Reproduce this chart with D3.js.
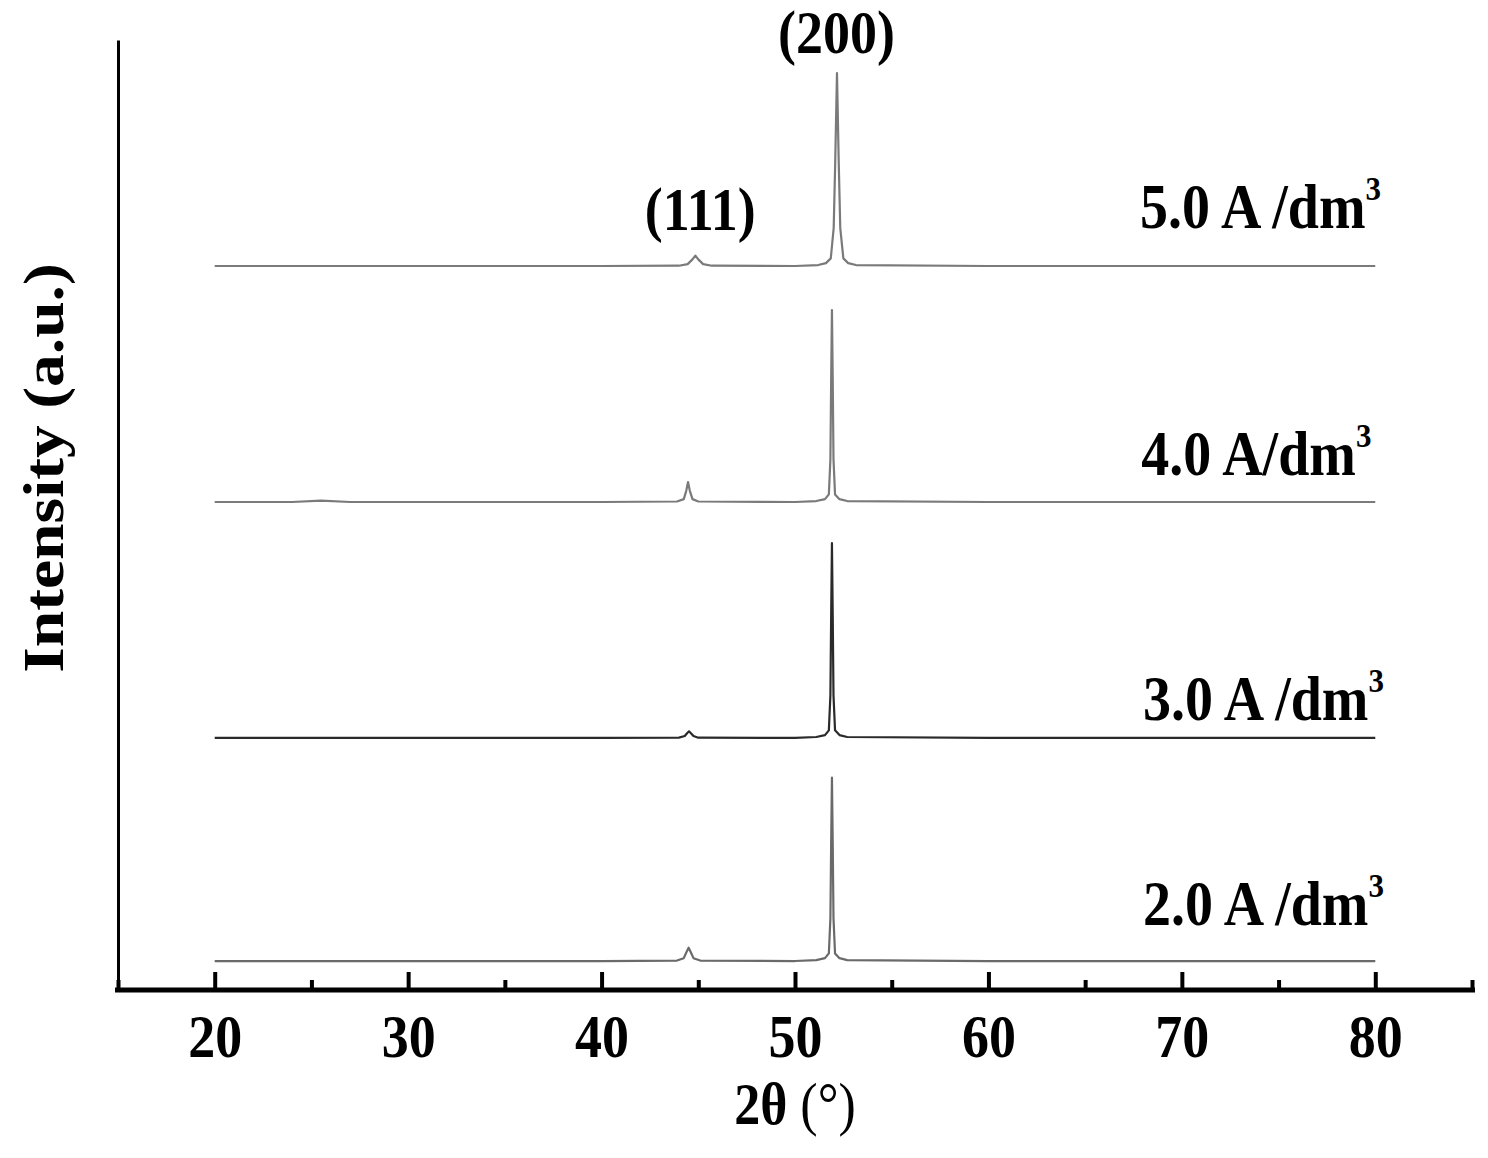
<!DOCTYPE html>
<html>
<head>
<meta charset="utf-8">
<script src="https://cdn.jsdelivr.net/npm/d3@7/dist/d3.min.js"></script>
<style>
  html, body { margin: 0; padding: 0; background: #fff; }
  svg { display: block; }
  text { font-family: "Liberation Serif", "Times New Roman", serif; fill: #000; }
</style>
</head>
<body>
<svg id="chart" width="1488" height="1158"></svg>
<script>
// ---- data ----
const seriesNames = ["2.0 A /dm", "3.0 A /dm", "4.0 A/dm", "5.0 A /dm"];
const offsets = [30.5, 265.3, 513.7, 762.1];           // stacking offsets, a.u.
const lineColors = ["#6a6a6a", "#2a2a2a", "#7a7a7a", "#7a7a7a"];

const theta20 = [20, 30, 40, 43.9, 44.25, 44.38, 44.5, 44.62, 44.75, 45.1, 50, 51.1, 51.55, 51.75, 51.83, 51.87, 51.91, 51.95, 51.99, 52.07, 52.3, 52.7, 60, 70, 80];
const int20   = [0, 0, 0, 0.5, 3, 9, 14, 9, 3, 0.5, 0, 1, 3, 8, 45, 125, 193, 125, 45, 8, 3, 1, 0, 0, 0];

const theta30 = [20, 30, 40, 44.0, 44.3, 44.42, 44.52, 44.62, 44.75, 45.0, 50, 51.1, 51.55, 51.75, 51.83, 51.87, 51.91, 51.95, 51.99, 52.07, 52.3, 52.7, 60, 70, 80];
const int30   = [0, 0, 0, 0.3, 2, 5, 7, 5, 2, 0.3, 0, 1, 3, 8, 45, 130, 205, 130, 45, 8, 3, 1, 0, 0, 0];

const theta40 = [20, 24, 25.5, 27, 30, 40, 43.9, 44.25, 44.38, 44.47, 44.56, 44.7, 45.0, 50, 51.1, 51.55, 51.75, 51.83, 51.87, 51.91, 51.95, 51.99, 52.07, 52.3, 52.7, 60, 70, 80];
const int40   = [0, 0, 1.5, 0, 0, 0, 0.5, 3, 12, 21, 12, 3, 0.5, 0, 1, 3, 8, 45, 130, 202, 130, 45, 8, 3, 1, 0, 0, 0];

const theta50 = [20, 30, 40, 44.0, 44.45, 44.7, 44.85, 45.0, 45.25, 45.7, 50, 51.2, 51.6, 51.85, 52.0, 52.08, 52.17, 52.26, 52.34, 52.5, 52.75, 53.15, 60, 70, 80];
const int50   = [0, 0, 0, 0.3, 2, 7, 11, 7, 2, 0.3, 0, 1, 3, 8, 40, 110, 203, 110, 40, 8, 3, 1, 0, 0, 0];

const thetaSets = [theta20, theta30, theta40, theta50];
const intSets = [int20, int30, int40, int50];

const labelTheta = [80.45, 80.45, 79.8, 80.3];   // right end of each label, degrees
const labelLevel = [68, 284, 542, 802];          // baseline of each label, a.u.

const peakLabels = ["(111)", "(200)"];
const peakTheta = [45.1, 52.15];
const peakLevel = [800, 986];

const majorTicks = [20, 30, 40, 50, 60, 70, 80];
const minorTicks = [15, 25, 35, 45, 55, 65, 75, 85];
const xDomain = [15, 85];
const yDomain = [0, 1000];

// ---- drawing ----
const svg = d3.select("#chart");
const x = d3.scaleLinear().domain(xDomain).range([118, 1472]);
const y = d3.scaleLinear().domain(yDomain).range([990, 40]);
const vs = 1.12; // vertical text stretch seen in the picture

// series
const line = d3.line().x(d => x(d[0])).y(d => y(d[1]));
thetaSets.forEach((th, i) => {
  const pts = th.map((t, j) => [t, intSets[i][j] + offsets[i]]);
  svg.append("path")
    .attr("d", line(pts))
    .attr("fill", "none")
    .attr("stroke", lineColors[i])
    .attr("stroke-width", 2.2)
    .attr("stroke-linejoin", "round");
});

// y axis (line only)
svg.append("g")
  .attr("transform", `translate(${x(xDomain[0])},0)`)
  .call(d3.axisLeft(y).tickValues([]).tickSizeOuter(0))
  .call(g => g.select(".domain").attr("stroke", "#000").attr("stroke-width", 3));

// x axis: minor ticks
svg.append("g")
  .attr("transform", `translate(0,${y(0)})`)
  .call(d3.axisBottom(x).tickValues(minorTicks).tickSize(-10).tickSizeOuter(0).tickFormat(""))
  .call(g => g.select(".domain").remove())
  .call(g => g.selectAll(".tick line").attr("stroke", "#000").attr("stroke-width", 4));

// x axis: major ticks + labels
const xa = svg.append("g")
  .attr("transform", `translate(0,${y(0)})`)
  .call(d3.axisBottom(x).tickValues(majorTicks).tickSize(-18).tickSizeOuter(0).tickPadding(0).tickFormat(d3.format("d")));
xa.select(".domain").attr("stroke", "#000").attr("stroke-width", 5)
  .attr("d", `M${x(xDomain[0]) - 3},0H${x(xDomain[1]) + 3}`);
xa.selectAll(".tick line").attr("stroke", "#000").attr("stroke-width", 4);
xa.selectAll(".tick text")
  .attr("y", null).attr("dy", null)
  .attr("transform", `translate(0,67) scale(1,${vs})`)
  .attr("font-size", 54).attr("font-weight", "bold")
  .attr("font-family", "'Liberation Serif', 'Times New Roman', serif")
  .attr("fill", "#000");

// x axis title
const xt = svg.append("text")
  .attr("transform", `translate(${x(50)},1124) scale(1,${vs})`)
  .attr("text-anchor", "middle")
  .attr("font-size", 52);
xt.append("tspan").attr("font-weight", "bold").text("2θ ");
xt.append("tspan").attr("font-weight", "normal").text("(°)");

// y axis title
svg.append("text")
  .attr("transform", `translate(63,468) rotate(-90) scale(1.15,1)`)
  .attr("text-anchor", "middle")
  .attr("font-size", 57).attr("font-weight", "bold")
  .text("Intensity (a.u.)");

// series labels
seriesNames.forEach((name, i) => {
  const t = svg.append("text")
    .attr("transform", `translate(${x(labelTheta[i])},${y(labelLevel[i])}) scale(1,${vs})`)
    .attr("text-anchor", "end")
    .attr("font-size", 56).attr("font-weight", "bold");
  t.append("tspan").text(name);
  t.append("tspan").attr("font-size", 31).attr("dy", -25).text("3");
});

// peak labels
peakLabels.forEach((lab, i) => {
  svg.append("text")
    .attr("transform", `translate(${x(peakTheta[i])},${y(peakLevel[i])}) scale(1,${vs})`)
    .attr("text-anchor", "middle")
    .attr("font-size", 54).attr("font-weight", "bold")
    .text(lab);
});
</script>
</body>
</html>
